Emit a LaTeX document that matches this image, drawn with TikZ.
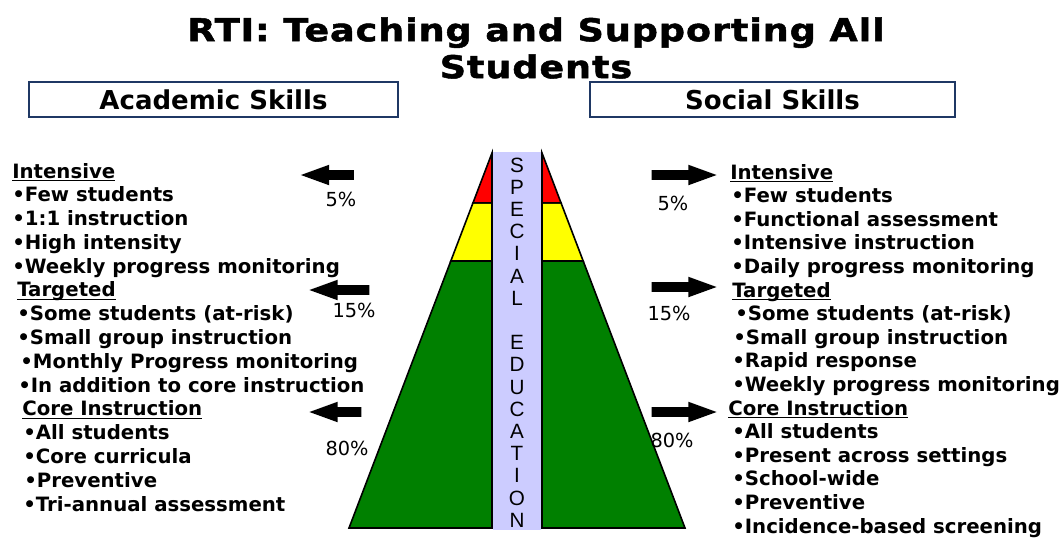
\documentclass[tikz,border=0pt]{standalone}
\usepackage{fontspec}
\setmainfont{DejaVu Sans}
\newfontfamily\titlefont{DejaVu Sans}[FakeStretch=1.16,FakeBold=1.6,LetterSpace=3]
\newfontfamily\stripfont{Liberation Sans}
\usetikzlibrary{shapes.arrows,calc}

\definecolor{tierred}{RGB}{255,0,0}
\definecolor{tieryellow}{RGB}{255,255,0}
\definecolor{tiergreen}{RGB}{0,128,0}
\definecolor{striplav}{RGB}{204,204,255}
\definecolor{boxnavy}{RGB}{31,56,100}

\newdimen\px \px=0.75pt
% underlined tier heading
\newcommand{\tierhead}[1]{\setbox0\hbox{#1}\rlap{\rule[-2.6pt]{\wd0}{1.4pt}}\box0}

\tikzset{
  skillbox/.style={draw=boxnavy, line width=1.3\px, fill=white, inner sep=0,
    minimum height=35\px, font=\fontsize{19.5}{23}\selectfont\bfseries},
  item/.style={anchor=base west, inner sep=0, font=\fontsize{14.8}{17.8}\selectfont\bfseries},
  pct/.style={inner sep=0, font=\fontsize{14.5}{17}\selectfont},
  tier/.style={draw=black, line width=1.6\px, line join=miter},
  tierarrow/.style={single arrow, fill=black, inner xsep=0, inner ysep=4.5\px,
    minimum width=20\px, single arrow head extend=5.5\px, single arrow tip angle=40}
}

\begin{document}
\begin{tikzpicture}[x=0.75pt,y=-0.75pt]
    \useasboundingbox (0,0) rectangle (1060,537);

    % title and column heads
    \node[align=center, anchor=north, inner sep=0,
      font=\titlefont\bfseries\fontsize{23.6}{27.75}\selectfont] (title) at (536,17)
      {RTI: Teaching and Supporting All\\Students};
    \node[skillbox, minimum width=369\px] (academic) at (213.5,99.5) {Academic Skills};
    \node[skillbox, minimum width=365\px] (social) at (772.5,99.5) {Social Skills};

    % special education strip
    \fill[striplav] (493,152) rectangle (541,530);
    \node[align=center, inner sep=0, font=\stripfont\fontsize{15.5}{16.65}\selectfont] (sped) at (517,342.5)
      {S\\P\\E\\C\\I\\A\\L\\[16.65pt]E\\D\\U\\C\\A\\T\\I\\O\\N};

    % left half of pyramid
    \coordinate (ltop) at (492,153);
    \coordinate (lfoot) at (349,528);
    \coordinate (lin) at (492,528);
    \filldraw[tier, fill=tiergreen] ($(ltop)!0.288!(lfoot)$) -- (lfoot) -- (lin) -- ($(ltop)!0.288!(lin)$) -- cycle;
    \filldraw[tier, fill=tieryellow] ($(ltop)!0.133!(lfoot)$) -- ($(ltop)!0.288!(lfoot)$) -- ($(ltop)!0.288!(lin)$) -- ($(ltop)!0.133!(lin)$) -- cycle;
    \filldraw[tier, fill=tierred] (ltop) -- ($(ltop)!0.133!(lfoot)$) -- ($(ltop)!0.133!(lin)$) -- cycle;

    % right half of pyramid
    \coordinate (rtop) at (542,153);
    \coordinate (rfoot) at (685,528);
    \coordinate (rin) at (542,528);
    \filldraw[tier, fill=tiergreen] ($(rtop)!0.288!(rfoot)$) -- (rfoot) -- (rin) -- ($(rtop)!0.288!(rin)$) -- cycle;
    \filldraw[tier, fill=tieryellow] ($(rtop)!0.133!(rfoot)$) -- ($(rtop)!0.288!(rfoot)$) -- ($(rtop)!0.288!(rin)$) -- ($(rtop)!0.133!(rin)$) -- cycle;
    \filldraw[tier, fill=tierred] (rtop) -- ($(rtop)!0.133!(rfoot)$) -- ($(rtop)!0.133!(rin)$) -- cycle;

    % arrows and percentages
    \node[tierarrow, shape border rotate=180, minimum height=53\px] (la5) at (334,175) {};
    \node[tierarrow, shape border rotate=180, minimum height=60\px] (la15) at (346,290) {};
    \node[tierarrow, shape border rotate=180, minimum height=52\px] (la80) at (342,412) {};
    \node[tierarrow, minimum height=65\px] (ra5) at (677.5,175) {};
    \node[tierarrow, minimum height=65\px] (ra15) at (677.5,287) {};
    \node[tierarrow, minimum height=65\px] (ra80) at (677.5,412) {};
    \node[pct] (lp5) at (341,199) {5\%};
    \node[pct] (lp15) at (354,310) {15\%};
    \node[pct] (lp80) at (347,448) {80\%};
    \node[pct] (rp5) at (673,203) {5\%};
    \node[pct] (rp15) at (669,313) {15\%};
    \node[pct] (rp80) at (672,440) {80\%};

    % academic skills list
    \foreach \xpos/\txt [count=\k from 0] in {
        12/\tierhead{Intensive},
        12/\textbullet Few students,
        12/\textbullet 1:1 instruction,
        12/\textbullet High intensity,
        12/\textbullet Weekly progress monitoring,
        17/\tierhead{Targeted},
        17/\textbullet Some students (at-risk),
        17/\textbullet Small group instruction,
        20/\textbullet Monthly Progress monitoring,
        18/\textbullet In addition to core instruction,
        22/\tierhead{Core Instruction},
        23/\textbullet All students,
        23/\textbullet Core curricula,
        24/\textbullet Preventive,
        23/\textbullet Tri-annual assessment}
      \node[item] (acad\k) at (\xpos,178+23.79*\k) {\txt};

    % social skills list
    \foreach \xpos/\txt [count=\k from 0] in {
        730/\tierhead{Intensive},
        731/\textbullet Few students,
        731/\textbullet Functional assessment,
        731/\textbullet Intensive instruction,
        731/\textbullet Daily progress monitoring,
        732/\tierhead{Targeted},
        735/\textbullet Some students (at-risk),
        733/\textbullet Small group instruction,
        732/\textbullet Rapid response,
        732/\textbullet Weekly progress monitoring,
        728/\tierhead{Core Instruction},
        732/\textbullet All students,
        732/\textbullet Present across settings,
        732/\textbullet School-wide,
        732/\textbullet Preventive,
        732/\textbullet Incidence-based screening}
      \node[item] (soc\k) at (\xpos,179+23.6*\k) {\txt};
\end{tikzpicture}
\end{document}
